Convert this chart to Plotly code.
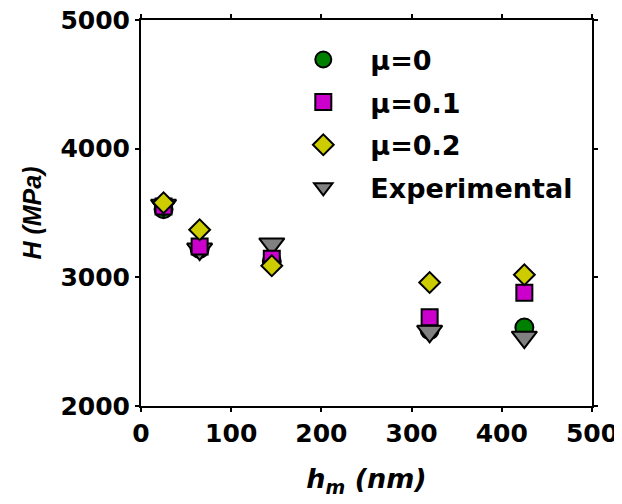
import plotly.graph_objects as go

hm = [25, 65, 145, 320, 425]
mu0 = [3530, 3220, 3125, 2590, 2610]
mu01 = [3550, 3240, 3145, 2690, 2880]
mu02 = [3580, 3370, 3090, 2960, 3020]
exper = [3560, 3220, 3260, 2580, 2535]

names = ["μ=0", "μ=0.1", "μ=0.2", "Experimental"]
colors = ["#008000", "#CC00CC", "#CCCC00", "#808080"]
symbols = ["circle", "square", "diamond", "triangle-down"]
sizes = [18, 16, 16, 22]
series = [mu0, mu01, mu02, exper]

fig = go.Figure()
# drawing order: green, experimental, magenta, yellow
for i in [0, 3, 1, 2]:
    fig.add_trace(go.Scatter(
        x=hm, y=series[i], mode="markers", name=names[i],
        legendrank=i + 1, legendgroup=names[i],
        marker=dict(symbol=symbols[i], size=sizes[i], color=colors[i],
                    line=dict(color="black", width=2)),
    ))

tickfont = dict(family="DejaVu Sans", size=25, color="black", weight="bold")

fig.update_layout(
    width=622, height=504,
    margin=dict(l=133, r=38, t=12, b=106),
    plot_bgcolor="white", paper_bgcolor="white",
    showlegend=True,
    legend=dict(
        x=0.3, y=0.96, xanchor="left", yanchor="top",
        font=dict(family="DejaVu Sans", size=27, color="black", weight="bold"),
        itemwidth=84, traceorder="grouped", tracegroupgap=4.5,
        bgcolor="rgba(0,0,0,0)",
    ),
)

fig.update_xaxes(
    range=[0, 500], tickvals=[0, 100, 200, 300, 400, 500],
    showgrid=False, zeroline=False, automargin=False,
    ticklabeloverflow="allow",
    showline=True, linecolor="black", linewidth=2, mirror="ticks",
    ticks="outside", ticklen=4, tickwidth=2, tickcolor="black",
    tickfont=tickfont,
    title=dict(text="<i>h<sub>m</sub> (nm)</i>", standoff=22,
               font=dict(family="DejaVu Sans", size=27, color="black", weight="bold")),
)
fig.update_yaxes(
    range=[2000, 5000], tickvals=[2000, 3000, 4000, 5000],
    showgrid=False, zeroline=False, automargin=False,
    ticklabeloverflow="allow",
    showline=True, linecolor="black", linewidth=2, mirror="ticks",
    ticks="outside", ticklen=4, tickwidth=2, tickcolor="black",
    tickfont=tickfont,
    title=dict(text="<i>H (MPa)</i>", standoff=12,
               font=dict(family="Liberation Sans", size=25, color="black", weight="bold")),
)

fig.write_html("out.html")
